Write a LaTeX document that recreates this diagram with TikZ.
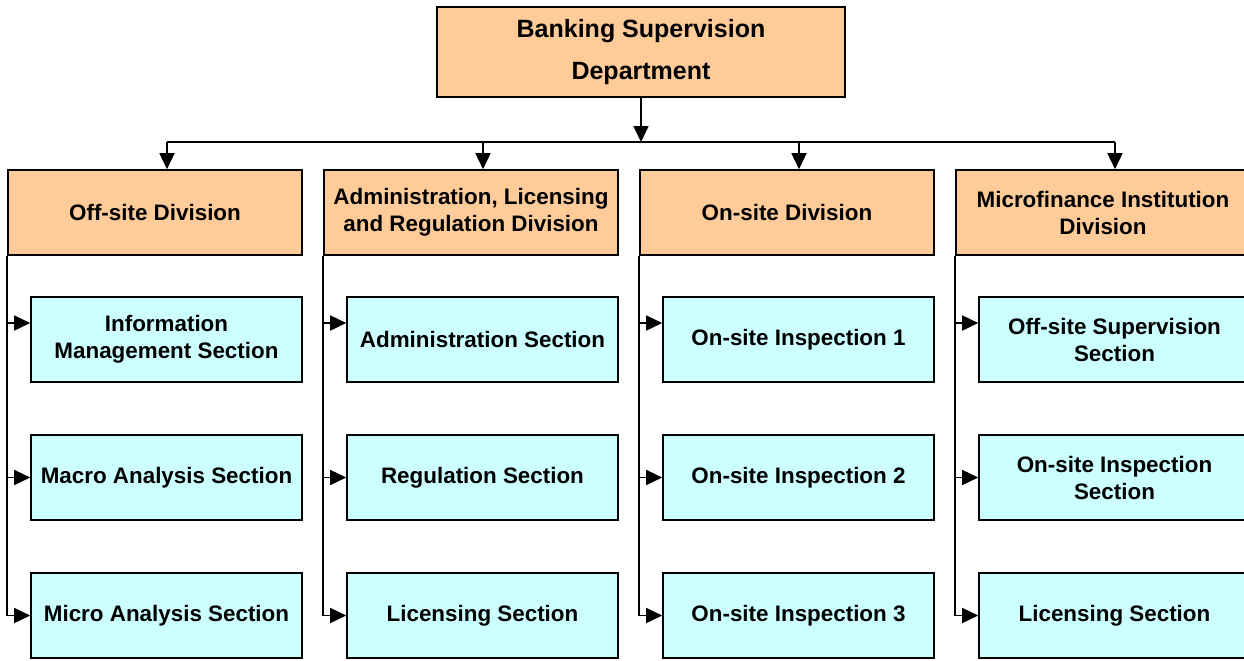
\documentclass[tikz,border=0pt]{standalone}
\usepackage{fontspec}
\setmainfont{Liberation Sans}
\usetikzlibrary{arrows.meta}
\definecolor{divorange}{HTML}{FFCC99}
\definecolor{seccyan}{HTML}{CCFFFF}
\tikzset{unitbox/.style={draw, line width=0.8pt, align=center, inner sep=2pt, font=\bfseries\fontsize{11.2}{13.5}\selectfont}}
\tikzset{deptbox/.style={unitbox, fill=divorange, minimum width=204pt, minimum height=45pt, font=\bfseries\fontsize{12.5}{21}\selectfont}}
\tikzset{divbox/.style={unitbox, fill=divorange, minimum width=147pt, minimum height=42.5pt}}
\tikzset{secbox/.style={unitbox, fill=seccyan, minimum width=135.5pt, minimum height=42.5pt}}
\tikzset{feed/.style={line width=0.8pt, -{Triangle[length=8pt,width=7.5pt]}}}

\begin{document}
\begin{tikzpicture}[x=0.5pt, y=-0.5pt]
    \useasboundingbox (0,0) rectangle (1244,660);
    \node[deptbox] (dept) at (641,52) {Banking Supervision\\Department};
    \coordinate (bus) at (641,142);
    % divisions
    \foreach \i/\name in {1/{Off-site Division},
                          2/{Administration, Licensing\\and Regulation Division},
                          3/{On-site Division},
                          4/{Microfinance Institution\\Division}} {
        \node[divbox] (div\i) at ({155+316*(\i-1)},212.5) {\name};
    }
    % sections
    \foreach \i/\j/\name in {1/1/{Information\\Management Section},
                             1/2/{Macro Analysis Section},
                             1/3/{Micro Analysis Section},
                             2/1/{Administration Section},
                             2/2/{Regulation Section},
                             2/3/{Licensing Section},
                             3/1/{On-site Inspection 1},
                             3/2/{On-site Inspection 2},
                             3/3/{On-site Inspection 3},
                             4/1/{Off-site Supervision\\Section},
                             4/2/{On-site Inspection\\Section},
                             4/3/{Licensing Section}} {
        \node[secbox] (sec\i\j) at ({166.5+316*(\i-1)},{339.5+138*(\j-1)}) {\name};
    }
    % connectors
    \draw[feed] (dept) -- (bus);
    \draw[line width=0.8pt] ([xshift=6pt]div1.north |- bus) -- ([xshift=6pt]div4.north |- bus);
    \foreach \i in {1,...,4} {
        \draw[feed] ([xshift=6pt]div\i.north |- bus) -- ([xshift=6pt]div\i.north);
        \coordinate (in\i) at ([yshift=8.25pt]sec\i1.west);
        \draw[feed] (div\i.south west |- in\i) -- (in\i);
        \draw[feed] (div\i.south west |- sec\i2.west) -- (sec\i2.west);
        \draw[feed] (div\i.south west) |- (sec\i3.west);
    }
\end{tikzpicture}
\end{document}
